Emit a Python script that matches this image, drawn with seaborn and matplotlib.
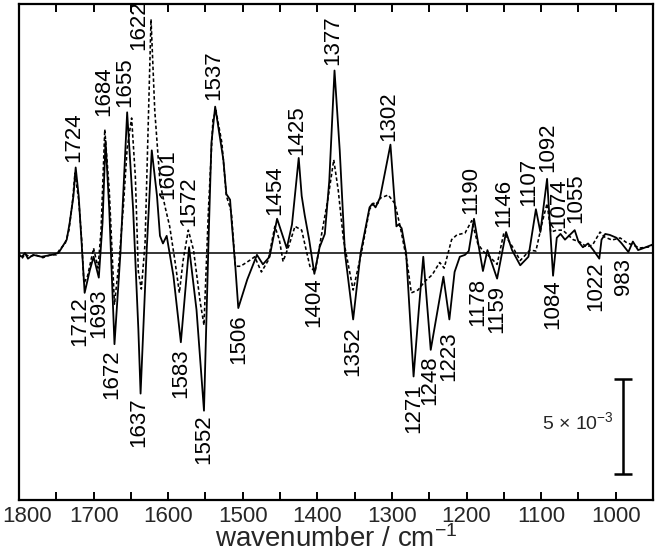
import numpy as np
import pandas as pd
import matplotlib
matplotlib.use("Agg")
import matplotlib.pyplot as plt
import matplotlib.transforms as mtransforms
import seaborn as sns

# ---------------- data (absorbance in units of 1e-3) ----------------
solid_wn = [1800, 1796, 1792, 1788, 1781, 1770, 1756, 1747, 1743, 1736,
            1732, 1727, 1724, 1720, 1716, 1712, 1705, 1700, 1693, 1688,
            1684, 1679, 1672, 1664, 1655, 1647, 1640, 1637, 1629, 1622,
            1615, 1611, 1607, 1602, 1593, 1583, 1572, 1562, 1552, 1546,
            1542, 1537, 1526, 1522, 1517, 1515, 1510, 1506, 1494, 1481,
            1473, 1464, 1454, 1441, 1434, 1425, 1421, 1417, 1411, 1404,
            1397, 1390, 1384, 1377, 1370, 1363, 1352, 1342, 1330, 1326,
            1322, 1316, 1302, 1294, 1291, 1287, 1281, 1271, 1264, 1258,
            1248, 1231, 1223, 1216, 1209, 1202, 1197, 1190, 1178, 1172,
            1159, 1147, 1139, 1128, 1117, 1107, 1101, 1092, 1084, 1079,
            1074, 1068, 1055, 1050, 1044, 1037, 1030, 1022, 1019, 1014,
            1008, 999, 992, 983, 977, 970, 963, 950]
solid_val = [-0.1, -0.2, 0.0, -0.3, -0.1, -0.2, -0.1, 0.0, 0.25, 0.7,
             1.6, 3.0, 4.5, 3.0, 0.5, -2.1, -0.9, -0.2, -1.3, 1.6,
             5.9, 2.3, -4.8, 0.0, 7.4, 2.3, -4.0, -7.4, 0.0, 5.4,
             3.0, 0.9, 0.5, 0.9, -1.2, -4.7, 0.3, -3.0, -8.3, 0.5,
             5.8, 7.7, 4.9, 3.1, 2.8, 1.7, -0.7, -2.9, -1.4, -0.1,
             -0.6, -0.2, 1.8, 0.25, 1.5, 5.0, 3.0, 2.0, 0.7, -1.1,
             0.3, 1.0, 3.8, 9.6, 5.4, 0.0, -3.5, 0.0, 2.4, 2.6,
             2.4, 2.9, 5.7, 1.4, 1.5, 1.3, 0.0, -6.5, -3.0, -0.2,
             -5.1, -1.25, -3.5, -1.0, -0.2, -0.1, 0.1, 1.8, -0.95, 0.15,
             -1.35, 1.1, 0.15, -0.65, -0.2, 2.3, 1.1, 3.9, -1.2, 0.8,
             1.0, 0.7, 1.2, 0.6, 0.3, 0.5, 0.15, -0.3, 0.7, 1.0,
             0.95, 0.8, 0.5, 0.05, 0.6, 0.15, 0.25, 0.45]

dashed_wn = [1800, 1796, 1792, 1786, 1778, 1768, 1758, 1750, 1745, 1738,
             1733, 1728, 1725, 1720, 1716, 1713, 1708, 1700, 1694, 1690,
             1685, 1679, 1672, 1666, 1660, 1655, 1649, 1644, 1640, 1636,
             1631, 1623, 1618, 1611, 1604, 1598, 1591, 1585, 1580, 1573,
             1566, 1557, 1552, 1546, 1540, 1536, 1528, 1522, 1517, 1515,
             1510, 1503, 1497, 1490, 1484, 1475, 1466, 1457, 1451, 1446,
             1438, 1430, 1421, 1415, 1410, 1403, 1394, 1386, 1378, 1372,
             1365, 1352, 1341, 1330, 1323, 1319, 1316, 1305, 1296, 1289,
             1280, 1274, 1265, 1256, 1246, 1236, 1230, 1220, 1213, 1202,
             1193, 1185, 1178, 1169, 1159, 1150, 1138, 1128, 1115, 1107,
             1098, 1092, 1087, 1079, 1071, 1064, 1057, 1048, 1039, 1031,
             1021, 1015, 1005, 994, 985, 977, 968, 954, 950]
dashed_val = [-0.05, -0.3, -0.05, -0.2, -0.1, -0.25, -0.1, -0.1, 0.2, 0.5,
              1.2, 2.8, 4.2, 2.8, 0.7, -1.6, -1.2, 0.25, -0.8, 1.2,
              6.5, 3.3, -2.7, -0.5, 2.5, 5.5, 7.1, 4.0, -1.0, -1.9,
              0.5, 12.3, 7.5, 3.7, 2.4, 1.4, -0.4, -2.1, -0.4, 1.2,
              0.15, -2.6, -3.8, 2.3, 7.0, 7.5, 5.8, 3.0, 2.4, 2.0,
              -0.7, -0.7, -0.55, -0.37, -0.2, -1.0, -0.4, 1.4, 0.7, -0.45,
              0.4, 1.4, 1.2, 0.15, -0.7, -1.0, 1.05, 2.8, 4.9, 3.3,
              0.7, -1.95, 0.0, 2.3, 2.68, 2.6, 2.88, 3.05, 2.6, 1.4,
              -0.4, -2.1, -1.95, -1.5, -1.15, -0.5, -0.8, 0.7, 0.95, 1.05,
              1.7, 0.5, 0.1, -0.2, -0.6, 1.05, 0.3, -0.4, 0.15, 0.1,
              1.7, 2.6, 1.1, 1.2, 1.2, 0.95, 0.7, 0.58, 0.32, 0.42,
              1.1, 0.84, 0.68, 0.79, 0.53, 0.42, 0.26, 0.32, 0.47]

upper_labels = ["1724", "1684", "1655", "1622", "1601", "1572", "1537", "1454",
                "1425", "1377", "1302", "1190", "1146", "1107", "1092", "1074", "1055"]
lower_labels = ["1712", "1693", "1672", "1637", "1583", "1552", "1506", "1404",
                "1352", "1271", "1248", "1223", "1178", "1159", "1084", "1022", "983"]

tick_values = [1800, 1700, 1600, 1500, 1400, 1300, 1200, 1100, 1000]
x_label = "wavenumber / cm$^{-1}$"
scale_label = "5 \u00d7 10$^{-3}$"
SCALE = 5e-3

# ---------------- layout (label anchors: wavenumber, value*1e3) ----------------
upper_pos = [(1727, 4.8), (1687, 7.2), (1658, 7.7), (1639, 10.7), (1600, 2.85),
             (1572, 1.4), (1539, 8.05), (1457.5, 2.0), (1427, 5.15), (1380, 9.9),
             (1304, 5.9), (1194, 2.05), (1150, 1.35), (1117, 2.45), (1091.5, 4.25),
             (1076, 1.3), (1054, 1.6)]
lower_pos = [(1718, -2.3), (1693, -1.85), (1675, -5.1), (1639, -7.6), (1583, -5.0),
             (1552, -8.5), (1505, -3.25), (1404.5, -1.3), (1353, -3.85), (1270.5, -6.85),
             (1249, -5.4), (1223.6, -4.15), (1185, -1.3), (1159, -1.7), (1085, -1.4),
             (1026.5, -0.45), (989, -0.25)]

# ---------------- style ----------------
sns.set_style("white")
plt.rcParams["font.family"] = ["Liberation Sans", "DejaVu Sans"]
plt.rcParams["mathtext.default"] = "regular"

df_solid = pd.DataFrame({"wavenumber": solid_wn, "absorbance": np.array(solid_val) * 1e-3})
df_dash = pd.DataFrame({"wavenumber": dashed_wn, "absorbance": np.array(dashed_val) * 1e-3})

fig = plt.figure(figsize=(6.55, 5.54), dpi=100)
ax = fig.add_axes([19 / 655, 54 / 554, 634 / 655, 496 / 554])

ax.axhline(0, color="black", lw=1.1, zorder=1)
sns.lineplot(data=df_dash, x="wavenumber", y="absorbance", ax=ax, color="black",
             lw=1.15, linestyle=(0, (2.2, 1.5)), estimator=None, sort=False)
sns.lineplot(data=df_solid, x="wavenumber", y="absorbance", ax=ax, color="black",
             lw=1.3, estimator=None, sort=False)

ax.set_xlim(1800, 950)
ax.set_ylim(-13.0e-3, 13.1e-3)

LABEL_FS = 16
for txt, (x, y) in zip(upper_labels, upper_pos):
    ax.text(x, y * 1e-3, txt, rotation=90, ha="center", va="bottom",
            fontsize=LABEL_FS, color="black")
for txt, (x, y) in zip(lower_labels, lower_pos):
    ax.text(x, y * 1e-3, txt, rotation=90, ha="center", va="top",
            fontsize=LABEL_FS, color="black")

# scale bar
bar_x, bar_top = 990, -6.63e-3
ax.plot([bar_x, bar_x], [bar_top, bar_top - SCALE], color="black", lw=1.8,
        solid_capstyle="butt")
for yy in (bar_top, bar_top - SCALE):
    ax.plot([bar_x + 12, bar_x - 12], [yy, yy], color="black", lw=1.8,
            solid_capstyle="butt")
ax.text(1003, -8.9e-3, scale_label, ha="right", va="center", fontsize=14)

ax.set_xticks(tick_values)
ax.set_xticklabels([str(t) for t in tick_values], fontsize=16)
ax.set_xticks(np.arange(950, 1801, 50), minor=True)
ax.set_yticks([])
ax.tick_params(axis="x", which="both", direction="in", top=True, bottom=True,
               length=6, width=1.4, pad=4, color="black")
ax.tick_params(axis="x", which="minor", labelbottom=False)
ax.set_xlabel(x_label, fontsize=20, labelpad=-1)
ax.set_ylabel("")
for s in ax.spines.values():
    s.set_visible(True)
    s.set_linewidth(1.6)
    s.set_color("black")

# keep the first tick label inside the figure, as in the reference
first = ax.get_xticklabels()[0]
first.set_transform(first.get_transform() +
                    mtransforms.ScaledTranslation(8 / 100, 0, fig.dpi_scale_trans))

fig.savefig("out.png", dpi=100, facecolor="white")
